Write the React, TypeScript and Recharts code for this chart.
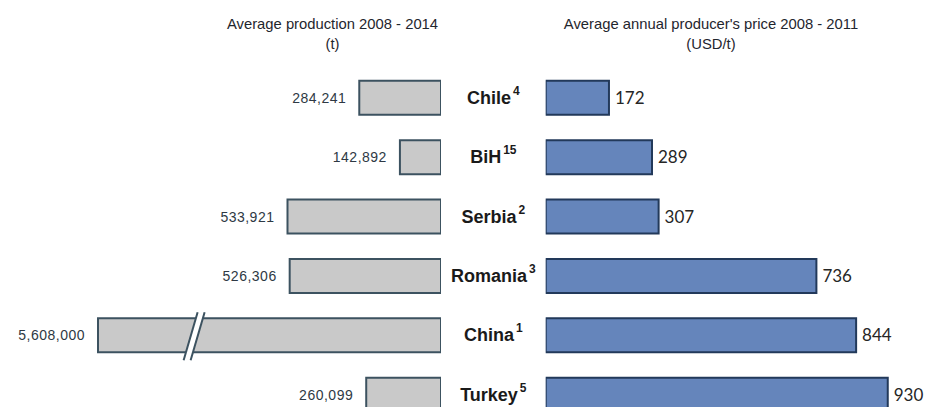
import React from 'react';
import { BarChart, Bar, XAxis, YAxis, LabelList, Rectangle } from 'recharts';

const categories = ['Chile', 'BiH', 'Serbia', 'Romania', 'China', 'Turkey'];
const superscripts = ['4', '15', '2', '3', '1', '5'];
const production = [284241, 142892, 533921, 526306, 5608000, 260099];
const price = [172, 289, 307, 736, 844, 930];
const leftTitle = ['Average production 2008 - 2014', '(t)'];
const rightTitle = ["Average annual producer's price 2008 - 2011", '(USD/t)'];

// production axis is broken: bars above this value are drawn truncated
const PRODUCTION_BREAK = 1193000;

const data = categories.map((name, i) => ({
  name,
  sup: superscripts[i],
  production: production[i],
  productionShown: Math.min(production[i], PRODUCTION_BREAK),
  broken: production[i] > PRODUCTION_BREAK,
  price: price[i],
}));

const CHART_H = 440;
const MARGIN_TOP = 67.8;
const MARGIN_BOTTOM = 15.95;
const YAXIS_W = 104.7;

const GRAY_FILL = '#c9c9c9';
const GRAY_STROKE = '#3c5260';
const BLUE_FILL = '#6585bb';
const BLUE_STROKE = '#22395a';

const BrokenBar = (props: any) => {
  const { x, y, width, height, payload } = props;
  const left = Math.min(x, x + width);
  const w = Math.abs(width);
  const rect = (
    <Rectangle x={left} y={y} width={w} height={height} fill={GRAY_FILL} stroke={GRAY_STROKE} strokeWidth={2} />
  );
  if (!payload || !payload.broken) return rect;
  const bx = left + w * 0.27;
  const top = y - 6;
  const bot = y + height + 8;
  const slant = 7;
  const gap = 7;
  return (
    <g>
      {rect}
      <polygon
        points={`${bx - slant},${bot} ${bx + slant},${top} ${bx + slant + gap},${top} ${bx - slant + gap},${bot}`}
        fill="#ffffff"
        stroke="none"
      />
      <line x1={bx - slant} y1={bot} x2={bx + slant} y2={top} stroke={GRAY_STROKE} strokeWidth={2} />
      <line x1={bx - slant + gap} y1={bot} x2={bx + slant + gap} y2={top} stroke={GRAY_STROKE} strokeWidth={2} />
    </g>
  );
};

const LeftLabel = (props: any) => {
  const vb = props.viewBox && props.viewBox.width !== undefined ? props.viewBox : props;
  const { x, y, width, height } = vb;
  const left = Math.min(x, x + width);
  const v = Number(props.value);
  return (
    <text
      x={left - 13}
      y={y + height / 2}
      textAnchor="end"
      dominantBaseline="central"
      fontFamily="'Liberation Sans', Arial, sans-serif"
      fontSize={14}
      letterSpacing={0.5}
      fill="#2e3944"
    >
      {v.toLocaleString('en-US')}
    </text>
  );
};

const CategoryTick = (props: any) => {
  const { x, y, payload } = props;
  const idx = categories.indexOf(payload.value);
  return (
    <text
      x={x - YAXIS_W / 2}
      y={y + 6.5}
      textAnchor="middle"
      fontFamily="'Liberation Sans', Arial, sans-serif"
      fontWeight="bold"
      fontSize={18}
      fill="#1a1a1a"
    >
      <tspan>{payload.value}</tspan>
      <tspan dx={2} dy={-9} fontSize={12}>{superscripts[idx]}</tspan>
    </text>
  );
};

const titleStyle = (cx: number): React.CSSProperties => ({
  position: 'absolute',
  left: cx - 200,
  top: 14,
  width: 400,
  textAlign: 'center',
  fontFamily: "'Liberation Sans', Arial, sans-serif",
  fontSize: 14.8,
  lineHeight: '20px',
  color: '#1f262e',
});

export default function App() {
  return (
    <div style={{ position: 'absolute', left: 0, top: 0, width: 929, height: 407, overflow: 'hidden', background: '#ffffff' }}>
      <div style={titleStyle(332.5)}>
        {leftTitle[0]}
        <br />
        {leftTitle[1]}
      </div>
      <div style={titleStyle(711)}>
        {rightTitle[0]}
        <br />
        {rightTitle[1]}
      </div>
      <div style={{ position: 'absolute', left: 0, top: 0 }}>
        <BarChart
          layout="vertical"
          width={441}
          height={CHART_H}
          data={data}
          margin={{ top: MARGIN_TOP, right: 0, bottom: MARGIN_BOTTOM, left: 9.75 }}
        >
          <XAxis type="number" hide reversed domain={[0, 1500000]} allowDataOverflow />
          <YAxis type="category" dataKey="name" hide />
          <Bar
            dataKey="productionShown"
            barSize={34}
            fill={GRAY_FILL}
            stroke={GRAY_STROKE}
            strokeWidth={2}
            isAnimationActive={false}
            shape={BrokenBar}
          >
            <LabelList dataKey="production" content={LeftLabel} />
          </Bar>
        </BarChart>
      </div>
      <div style={{ position: 'absolute', left: 441, top: 0 }}>
        <BarChart
          layout="vertical"
          width={488}
          height={CHART_H}
          data={data}
          margin={{ top: MARGIN_TOP, right: 15.5, bottom: MARGIN_BOTTOM, left: 0 }}
        >
          <XAxis type="number" hide domain={[0, 1000]} allowDataOverflow />
          <YAxis
            type="category"
            dataKey="name"
            width={YAXIS_W}
            tickSize={0}
            tickMargin={0}
            axisLine={false}
            tickLine={false}
            interval={0}
            tick={<CategoryTick />}
          />
          <Bar dataKey="price" barSize={34} fill={BLUE_FILL} stroke={BLUE_STROKE} strokeWidth={2} isAnimationActive={false}>
            <LabelList
              dataKey="price"
              position="right"
              offset={6}
              fill="#262626"
              fontFamily="Lato, 'Open Sans', sans-serif"
              fontSize={17}
            />
          </Bar>
        </BarChart>
      </div>
    </div>
  );
}
